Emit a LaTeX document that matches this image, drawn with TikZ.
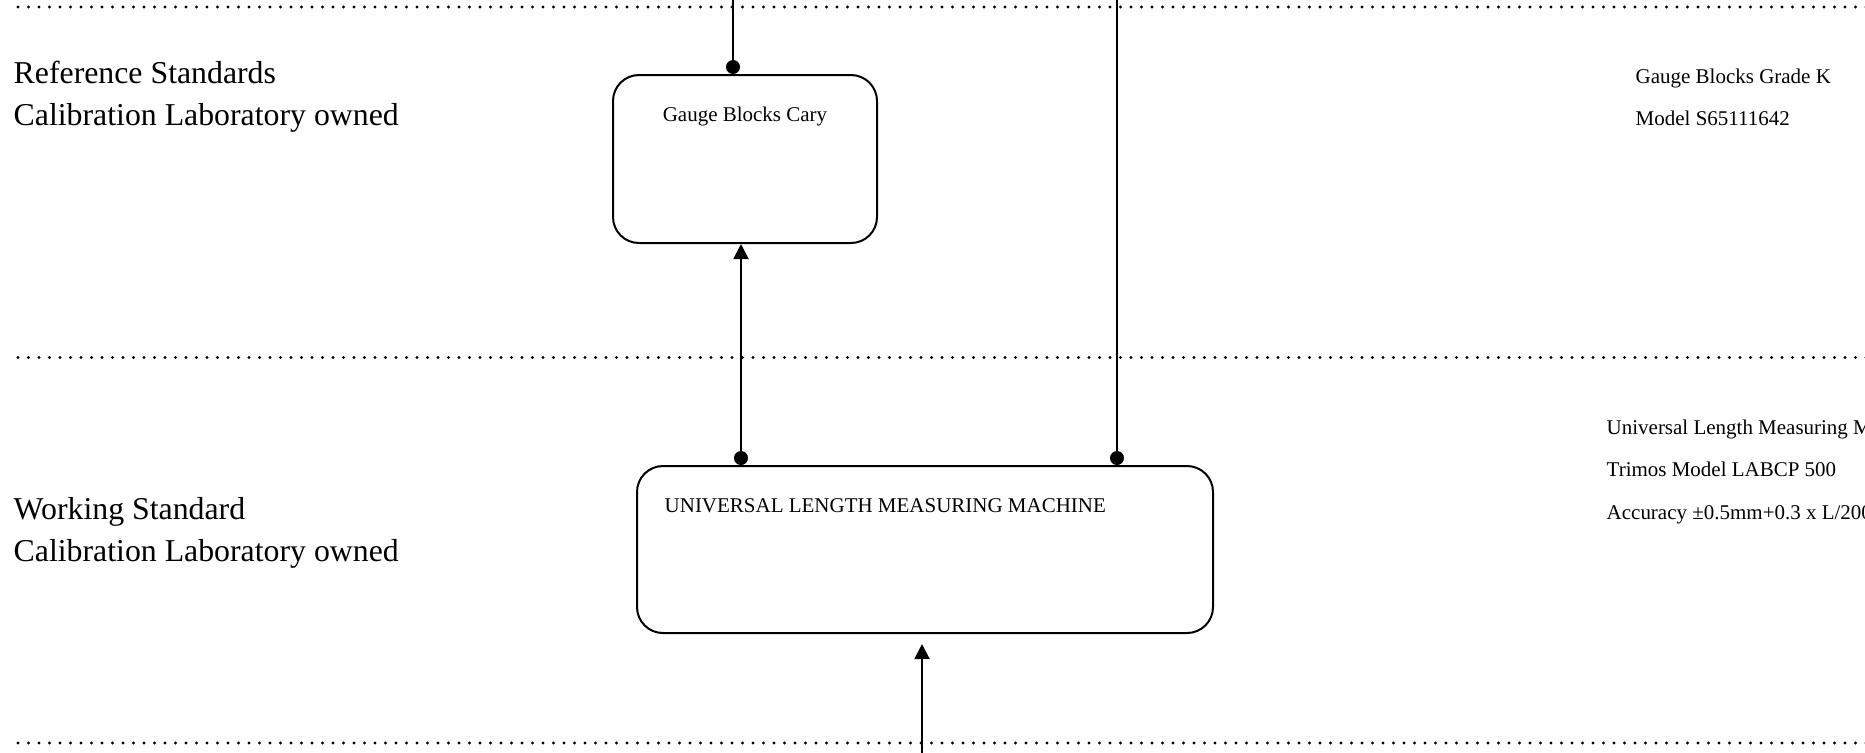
\documentclass[tikz,border=0pt]{standalone}
\usepackage{fontspec}
\setmainfont{Liberation Serif}
\usetikzlibrary{arrows.meta,positioning}
\tikzset{>={Triangle[length=0.15cm,width=0.15cm]},
  bigtext/.style={inner sep=0pt,anchor=base west,font=\fontsize{9.05pt}{11pt}\selectfont},
  smalltext/.style={inner sep=0pt,font=\fontsize{5.97pt}{7pt}\selectfont},
  stdbox/.style={draw,line width=0.02cm,rounded corners=0.26cm,inner sep=0pt},
  link/.style={line width=0.02cm},
  sepline/.style={line width=0.032cm,line cap=round,dash pattern=on 0pt off 0.105cm}}

\begin{document}
\begin{tikzpicture}[y=-1cm]
\useasboundingbox (0,0) rectangle (18.65,7.52);
\clip (0,0) rectangle (18.65,7.52);
% level separators
\draw[sepline] (0.18,0.07) -- (18.7,0.07);
\draw[sepline] (0.18,3.575) -- (18.7,3.575);
\draw[sepline] (0.18,7.43) -- (18.7,7.43);
% level names
\node[bigtext] (refstd) at (0.13,0.83) {Reference Standards};
\node[bigtext] (refown) at (0.13,1.25) {Calibration Laboratory owned};
\node[bigtext] (wrkstd) at (0.13,5.19) {Working Standard};
\node[bigtext] (wrkown) at (0.13,5.61) {Calibration Laboratory owned};
% equipment
\node[stdbox,minimum width=2.64cm,minimum height=1.68cm] (cary) at (7.45,1.59) {};
\node[smalltext,anchor=base] (carytext) at ([yshift=-0.47cm]cary.north) {Gauge Blocks Cary};
\node[stdbox,minimum width=5.76cm,minimum height=1.67cm] (ulmm) at (9.25,5.495) {};
\node[smalltext,anchor=base west] (ulmmtext) at ([xshift=0.28cm,yshift=-0.47cm]ulmm.north west) {UNIVERSAL LENGTH MEASURING MACHINE};
% details
\node[smalltext,anchor=base west] (carygrade) at (16.35,0.83) {Gauge Blocks Grade K};
\node[smalltext,anchor=base west] (carymodel) at (16.35,1.25) {Model S65111642};
\node[smalltext,anchor=base west] (ulmmname) at (16.06,4.34) {Universal Length Measuring Machine};
\node[smalltext,anchor=base west] (ulmmmodel) at (16.06,4.76) {Trimos Model LABCP 500};
\node[smalltext,anchor=base west] (ulmmacc) at (16.06,5.19) {Accuracy ±0.5mm+0.3 x L/200};
% traceability
\coordinate (caryin) at (7.33,-0.1);
\coordinate (ulmmin) at (11.17,-0.1);
\coordinate (ulmmsrc) at (9.22,7.7);
\draw[link,-{Circle[length=0.14cm]}] (caryin) -- (caryin |- cary.north);
\draw[link,{Circle[length=0.14cm]}->] ([xshift=-0.04cm]cary.south |- ulmm.north) -- ([xshift=-0.04cm]cary.south);
\draw[link,-{Circle[length=0.14cm]}] (ulmmin) -- (ulmmin |- ulmm.north);
\draw[link,->,shorten >=0.1cm] (ulmmsrc) -- (ulmmsrc |- ulmm.south);
\end{tikzpicture}
\end{document}
